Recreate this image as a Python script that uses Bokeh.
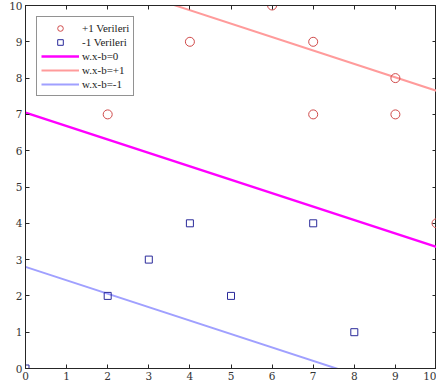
from bokeh.plotting import figure
from bokeh.models import LinearAxis, Range1d, Legend, LegendItem, FixedTicker
from bokeh.embed import file_html
from bokeh.resources import INLINE

# +1 data
pos_x = [2, 4, 6, 7, 7, 9, 9, 10]
pos_y = [7, 9, 10, 9, 7, 8, 7, 4]
# -1 data
neg_x = [0, 2, 3, 4, 5, 7, 8]
neg_y = [0, 2, 3, 4, 2, 4, 1]
# hyperplane lines (endpoints)
line_x = [0, 10]
h0_y = [7.05, 3.35]
hp_y = [11.35, 7.65]
hm_y = [2.8, -0.9]
ticks = [0, 1, 2, 3, 4, 5, 6, 7, 8, 9, 10]

FONT = "DejaVu Serif"
p = figure(width=436, height=382, output_backend="svg", toolbar_location=None,
           x_range=Range1d(0, 10), y_range=Range1d(0, 10),
           min_border_left=25, min_border_right=0, min_border_top=5, min_border_bottom=2)
p.xgrid.visible = False
p.ygrid.visible = False
p.outline_line_color = "#262626"

r_h0 = p.line(line_x, h0_y, line_color="#ff00ff", line_width=2.5)
r_hp = p.line(line_x, hp_y, line_color="#ff9b9b", line_width=2)
r_hm = p.line(line_x, hm_y, line_color="#a0a0ff", line_width=2)
r_pos = p.scatter(pos_x, pos_y, marker="circle", size=9, fill_color=None,
                  line_color="#d04a4a", line_width=1)
r_neg = p.scatter(neg_x, neg_y, marker="square", size=7, fill_color=None,
                  line_color="#2a2a9a", line_width=1)

for ax in [p.xaxis[0], p.yaxis[0]]:
    ax.ticker = FixedTicker(ticks=ticks)
    ax.major_tick_in = 4
    ax.major_tick_out = 0
    ax.minor_tick_in = 0
    ax.minor_tick_out = 0
    ax.axis_line_color = "#262626"
    ax.major_tick_line_color = "#262626"
    ax.major_label_text_font = FONT
    ax.major_label_text_font_size = "10.5px"
    ax.major_label_text_color = "#333333"
    ax.major_label_standoff = 3

for loc in ["above", "right"]:
    a = LinearAxis(ticker=FixedTicker(ticks=ticks))
    a.major_tick_in = 4
    a.major_tick_out = 0
    a.minor_tick_in = 0
    a.minor_tick_out = 0
    a.major_label_text_font_size = "1px"
    a.major_label_text_color = None
    a.major_label_standoff = 0
    a.axis_line_color = "#262626"
    a.major_tick_line_color = "#262626"
    p.add_layout(a, loc)

legend = Legend(items=[
    LegendItem(label="+1 Verileri", renderers=[r_pos]),
    LegendItem(label="-1 Verileri", renderers=[r_neg]),
    LegendItem(label="w.x-b=0", renderers=[r_h0]),
    LegendItem(label="w.x-b=+1", renderers=[r_hp]),
    LegendItem(label="w.x-b=-1", renderers=[r_hm]),
], location="top_left")
legend.label_text_font = "Liberation Serif"
legend.label_text_font_size = "11px"
legend.label_text_color = "#222222"
legend.glyph_width = 38
legend.glyph_height = 14
legend.label_height = 14
legend.spacing = 0
legend.padding = 4
legend.margin = 11
legend.label_standoff = 3
legend.border_line_color = "#262626"
legend.background_fill_alpha = 1
p.add_layout(legend)

open("out.html", "w").write(file_html(p, INLINE))
